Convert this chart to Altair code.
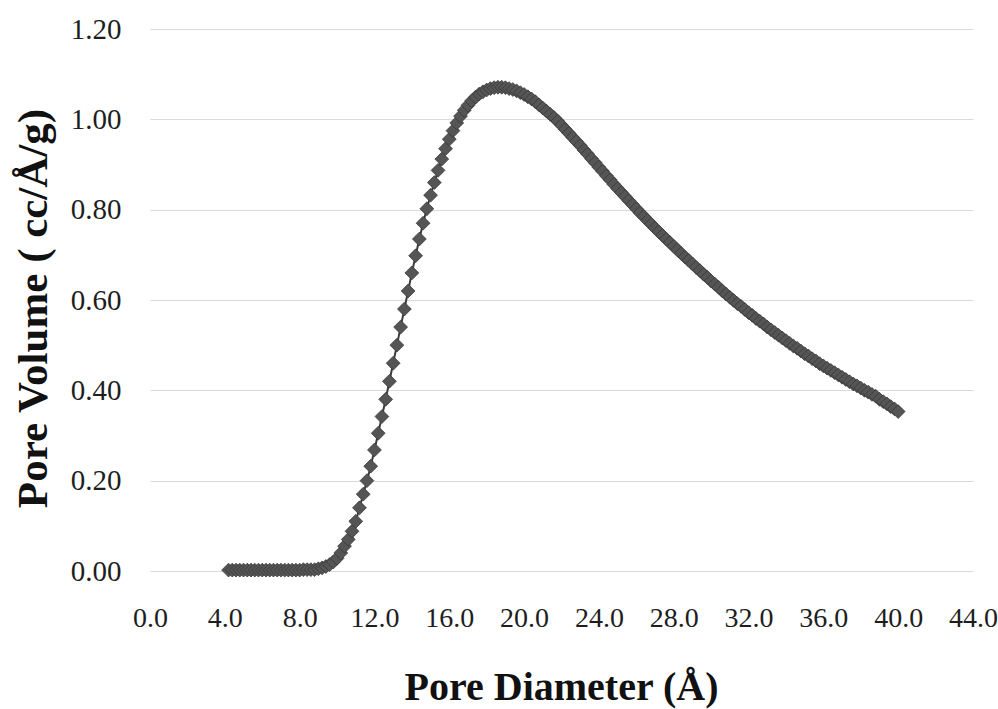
import altair as alt
import pandas as pd

# Pore diameter (Å)
diameter = [
    4.2, 4.4, 4.6, 4.8, 5.0, 5.2, 5.4, 5.6, 5.8, 6.0,
    6.2, 6.4, 6.6, 6.8, 7.0, 7.2, 7.4, 7.6, 7.8, 8.0,
    8.2, 8.4, 8.6, 8.8, 9.0, 9.2, 9.4, 9.6, 9.8, 10.0,
    10.2, 10.4, 10.6, 10.8, 11.0, 11.2, 11.4, 11.6, 11.8, 12.0,
    12.2, 12.4, 12.6, 12.8, 13.0, 13.2, 13.4, 13.6, 13.8, 14.0,
    14.2, 14.4, 14.6, 14.8, 15.0, 15.2, 15.4, 15.6, 15.8, 16.0,
    16.2, 16.4, 16.6, 16.8, 17.0, 17.2, 17.4, 17.6, 17.8, 18.0,
    18.2, 18.4, 18.6, 18.8, 19.0, 19.2, 19.4, 19.6, 19.8, 20.0,
    20.2, 20.4, 20.6, 20.8, 21.0, 21.2, 21.4, 21.6, 21.8, 22.0,
    22.2, 22.4, 22.6, 22.8, 23.0, 23.2, 23.4, 23.6, 23.8, 24.0,
    24.2, 24.4, 24.6, 24.8, 25.0, 25.2, 25.4, 25.6, 25.8, 26.0,
    26.2, 26.4, 26.6, 26.8, 27.0, 27.2, 27.4, 27.6, 27.8, 28.0,
    28.2, 28.4, 28.6, 28.8, 29.0, 29.2, 29.4, 29.6, 29.8, 30.0,
    30.2, 30.4, 30.6, 30.8, 31.0, 31.2, 31.4, 31.6, 31.8, 32.0,
    32.2, 32.4, 32.6, 32.8, 33.0, 33.2, 33.4, 33.6, 33.8, 34.0,
    34.2, 34.4, 34.6, 34.8, 35.0, 35.2, 35.4, 35.6, 35.8, 36.0,
    36.2, 36.4, 36.6, 36.8, 37.0, 37.2, 37.4, 37.6, 37.8, 38.0,
    38.2, 38.4, 38.6, 38.8, 39.0, 39.2, 39.4, 39.6, 39.8, 40.0,
]

# Pore volume (cc/Å/g)
volume = [
    0.002, 0.002, 0.002, 0.002, 0.002, 0.002, 0.002, 0.002, 0.002, 0.002,
    0.002, 0.002, 0.002, 0.002, 0.002, 0.002, 0.002, 0.002, 0.002, 0.002,
    0.003, 0.003, 0.003, 0.003, 0.005, 0.007, 0.010, 0.014, 0.020, 0.028,
    0.040, 0.055, 0.070, 0.088, 0.110, 0.140, 0.170, 0.200, 0.232, 0.268,
    0.305, 0.342, 0.380, 0.420, 0.460, 0.500, 0.540, 0.580, 0.620, 0.660,
    0.698, 0.735, 0.770, 0.802, 0.832, 0.860, 0.887, 0.912, 0.935, 0.956,
    0.975, 0.992, 1.007, 1.020, 1.031, 1.041, 1.049, 1.056, 1.061, 1.065,
    1.068, 1.070, 1.071, 1.071, 1.070, 1.068, 1.066, 1.063, 1.059, 1.055,
    1.050, 1.045, 1.039, 1.032, 1.025, 1.018, 1.011, 1.004, 0.996, 0.987,
    0.978, 0.969, 0.960, 0.951, 0.942, 0.932, 0.923, 0.913, 0.904, 0.894,
    0.885, 0.875, 0.866, 0.856, 0.847, 0.838, 0.829, 0.820, 0.811, 0.802,
    0.793, 0.785, 0.776, 0.768, 0.759, 0.751, 0.743, 0.735, 0.727, 0.719,
    0.711, 0.703, 0.695, 0.688, 0.680, 0.672, 0.665, 0.657, 0.650, 0.642,
    0.635, 0.628, 0.620, 0.613, 0.606, 0.599, 0.592, 0.586, 0.579, 0.572,
    0.566, 0.559, 0.553, 0.547, 0.540, 0.534, 0.528, 0.522, 0.516, 0.510,
    0.504, 0.498, 0.493, 0.487, 0.481, 0.476, 0.470, 0.465, 0.459, 0.454,
    0.449, 0.444, 0.439, 0.434, 0.429, 0.424, 0.419, 0.414, 0.410, 0.405,
    0.400, 0.396, 0.391, 0.387, 0.380, 0.375, 0.370, 0.364, 0.359, 0.353,
]

x_ticks = [0, 4, 8, 12, 16, 20, 24, 28, 32, 36, 40, 44]
y_ticks = [0.0, 0.2, 0.4, 0.6, 0.8, 1.0, 1.2]

df = pd.DataFrame({"d": diameter, "v": volume})

FONT = "Liberation Serif"
MARK = "#555555"

chart = (
    alt.Chart(df)
    .mark_line(
        color="#3c3c3c",
        strokeWidth=2,
        point=alt.OverlayMarkDef(
            shape="diamond", size=190, filled=True, color=MARK,
            stroke="#383838", strokeWidth=0.8, opacity=1,
        ),
    )
    .encode(
        x=alt.X(
            "d:Q",
            scale=alt.Scale(domain=[0, 44], nice=False, zero=False),
            axis=alt.Axis(
                values=x_ticks, format=".1f", grid=False, domain=False,
                ticks=False, labelFont=FONT, labelFontSize=28,
                labelColor="#1e1e1e", labelPadding=33,
                labelFlush=False, labelOverlap=False, labelBound=False,
                title="Pore Diameter (Å)", titleFont=FONT, titleFontSize=40,
                titleFontWeight="bold", titleColor="#111111",
                titleX=411, titleY=128, titleBaseline="alphabetic",
                titleAnchor="middle", titleAlign="center",
            ),
        ),
        y=alt.Y(
            "v:Q",
            scale=alt.Scale(domain=[0, 1.2], nice=False),
            axis=alt.Axis(
                values=y_ticks, format=".2f", grid=True, gridColor="#dadada",
                gridWidth=1, domain=False, ticks=False, labelFont=FONT,
                labelFontSize=29, labelColor="#1e1e1e", labelPadding=29,
                labelFlush=False, labelOverlap=False, labelBound=False,
                title="Pore Volume ( cc/Å/g)", titleFont=FONT, titleFontSize=43,
                titleFontWeight="bold", titleColor="#111111",
                titleAngle=270, titleX=-104, titleY=279,
                titleBaseline="alphabetic", titleAlign="center",
            ),
        ),
    )
    .properties(
        width=823,
        height=542,
        background="white",
        autosize=alt.AutoSizeParams(type="none"),
        padding={"left": 150, "top": 29, "right": 25, "bottom": 138},
    )
    .configure_view(stroke=None)
)

chart.save("out.html", embed_options={"renderer": "svg", "actions": False})
